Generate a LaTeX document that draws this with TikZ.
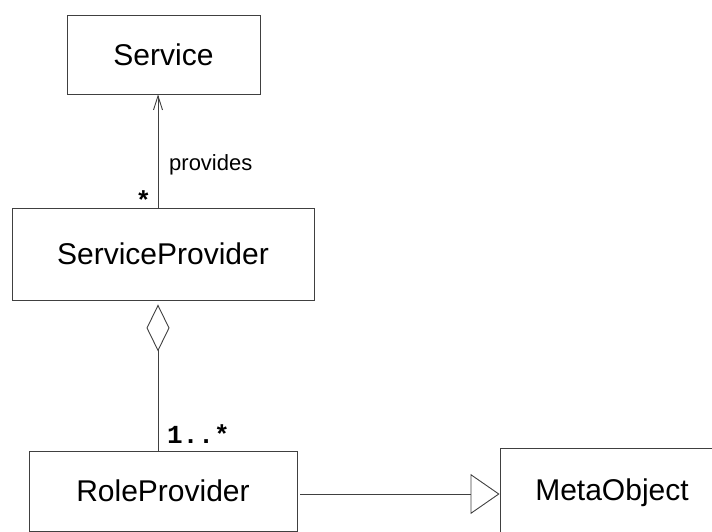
\documentclass[tikz,border=0pt]{standalone}
\usepackage{fontspec}
\setmainfont{Liberation Sans}
\setmonofont{Liberation Mono}
\usetikzlibrary{arrows.meta}
\definecolor{lc}{gray}{0.25}
\begin{document}
\begin{tikzpicture}[x=1pt,y=-1pt,
  cls/.style={draw=lc, line width=0.9pt, rectangle, inner sep=0pt,
              font=\fontsize{30}{36}\selectfont},
  conn/.style={draw=lc, line width=0.9pt},
  role/.style={inner sep=0pt, font=\fontsize{22}{26}\selectfont},
  mult/.style={inner sep=0pt, font=\ttfamily\bfseries\fontsize{26}{30}\selectfont},
]
\useasboundingbox (0,0) rectangle (712,532);

% classes
\node[cls, minimum width=193pt, minimum height=79pt] (svc) at (163.5,54.5) {Service};
\node[cls, minimum width=302pt, minimum height=92pt] (sp)  at (163,254)    {ServiceProvider};
\node[cls, minimum width=268pt, minimum height=80pt] (rp)  at (163,491)    {RoleProvider};
\node[cls, minimum width=224pt, minimum height=89pt] (mo)  at (612,492.5)  {MetaObject};

% vertical axis of the left-hand associations, level of the generalization
\coordinate (ax) at (158,0);
\coordinate (lvl) at (0,494);

% association: ServiceProvider provides Service
\draw[conn, -{Straight Barb[length=14pt,width=9pt]}]
  (ax |- sp.north) -- (ax |- svc.south);
\node[role, anchor=base west] (prov) at (169,170) {provides};
\node[mult, anchor=base] (m1) at (143.5,209) {*};

% aggregation: ServiceProvider aggregates RoleProvider
\draw[conn, {Diamond[open,length=47pt,width=23pt]}-, shorten <=4pt]
  (ax |- sp.south) -- (ax |- rp.north);
\node[mult, anchor=base west] (m2) at (167,443) {1..*};

% generalization: RoleProvider is a MetaObject
\draw[conn, -{Triangle[open,length=29pt,width=40pt]}, shorten <=3pt]
  (rp.east |- lvl) -- (mo.west |- lvl);
\end{tikzpicture}
\end{document}
